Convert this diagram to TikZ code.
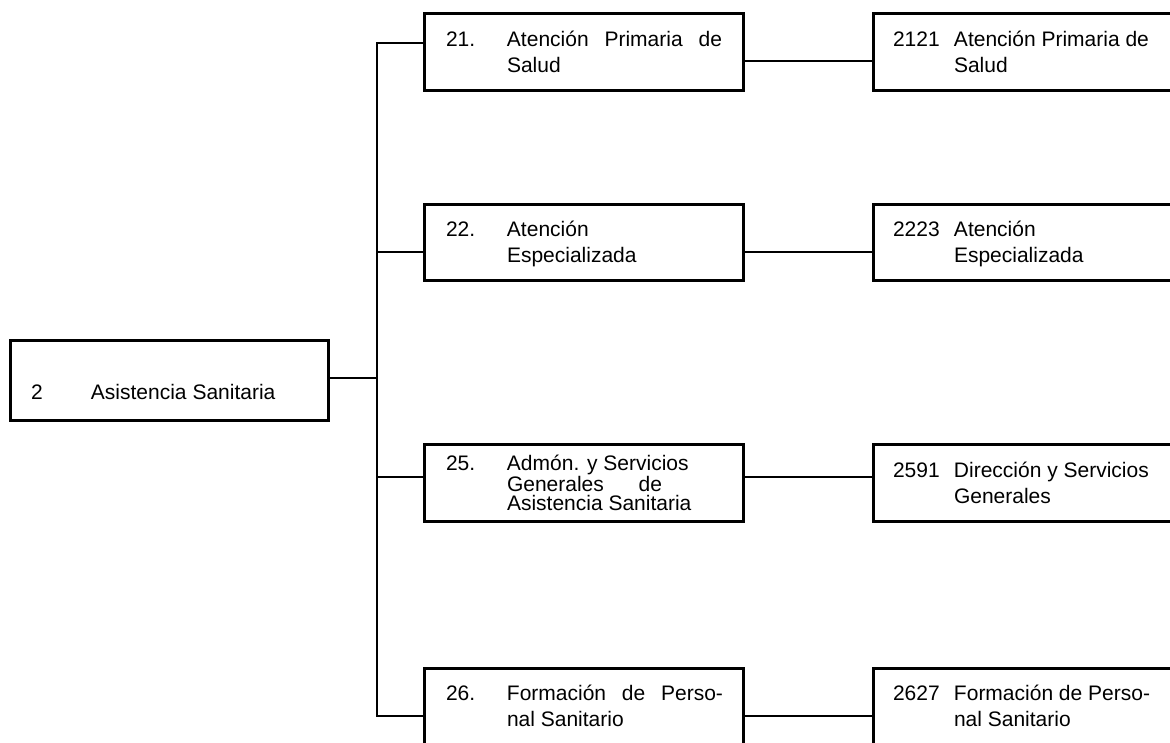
\documentclass[tikz,border=0pt]{standalone}
\usepackage{fontspec}
\setmainfont{Liberation Sans}
\begin{document}
\begin{tikzpicture}[x=1pt,y=-1pt,
  box/.style={draw=black, line width=3pt, rectangle, anchor=north west, inner sep=0pt, outer sep=0pt},
  conn/.style={draw=black, line width=2.8pt},
  txt/.style={anchor=base west, inner sep=0pt, outer sep=0pt, align=left, font=\fontsize{21pt}{26pt}\selectfont},
  txttight/.style={txt, font=\fontsize{21pt}{19pt}\selectfont}]
\useasboundingbox (0,0) rectangle (1170,742);
\clip (0,0) rectangle (1170,742);
% main box
\node[box, minimum width=318pt, minimum height=80pt] (main) at (10,340) {};
\node[txt] (tmain) at (31,399) {\makebox[60pt][l]{2}Asistencia Sanitaria};
% left column boxes
\node[box, minimum width=319pt, minimum height=77pt] (b21) at (424,13) {};
\node[box, minimum width=319pt, minimum height=76pt] (b22) at (424,204) {};
\node[box, minimum width=319pt, minimum height=77pt] (b25) at (424,444) {};
\node[box, minimum width=319pt, minimum height=102pt] (b26) at (424,668) {};
% right column boxes
\node[box, minimum width=340pt, minimum height=77pt] (c2121) at (873,13) {};
\node[box, minimum width=340pt, minimum height=76pt] (c2223) at (873,204) {};
\node[box, minimum width=340pt, minimum height=77pt] (c2591) at (873,444) {};
\node[box, minimum width=340pt, minimum height=102pt] (c2627) at (873,668) {};
% texts left (base anchor = last line baseline)
\node[txt] (t21) at (446,72) {\makebox[61pt][l]{21.}\makebox[215pt][s]{Atención Primaria de}\\\hspace*{61pt}Salud};
\node[txt] (t22) at (446,262) {\makebox[61pt][l]{22.}Atención\\\hspace*{61pt}Especializada};
\node[txttight] (t25) at (446,510) {\makebox[61pt][l]{25.}Admón. y Servicios\\\hspace*{61pt}\makebox[155pt][s]{Generales de}\\\hspace*{61pt}Asistencia Sanitaria};
\node[txt] (t26) at (446,726) {\makebox[61pt][l]{26.}\makebox[216pt][s]{Formación de Perso-}\\\hspace*{61pt}nal Sanitario};
% texts right
\node[txt] (u2121) at (893,72) {\makebox[61pt][l]{2121}Atención Primaria de\\\hspace*{61pt}Salud};
\node[txt] (u2223) at (893,262) {\makebox[61pt][l]{2223}Atención\\\hspace*{61pt}Especializada};
\node[txt] (u2591) at (893,503) {\makebox[61pt][l]{2591}Dirección y Servicios\\\hspace*{61pt}Generales};
\node[txt] (u2627) at (893,726) {\makebox[61pt][l]{2627}Formación de Perso-\\\hspace*{61pt}nal Sanitario};
% trunk
\coordinate (tr1) at (377,43);
\coordinate (tr2) at (377,252);
\coordinate (tr3) at (377,477);
\coordinate (tr4) at (377,716);
\coordinate (trm) at (377,378);
\draw[conn] (b21.west |- tr1) -- (tr1) -- (tr4) -- (b26.west |- tr4);
\draw[conn] (tr2) -- (b22.west |- tr2);
\draw[conn] (tr3) -- (b25.west |- tr3);
\draw[conn] (main.east |- trm) -- (trm);
% right connectors
\draw[conn] ([yshift=-9.5pt]b21.east) -- ([yshift=-9.5pt]c2121.east -| c2121.west);
\draw[conn] ([yshift=-10pt]b22.east) -- ([yshift=-10pt]c2223.east -| c2223.west);
\draw[conn] ([yshift=5.5pt]b25.east) -- ([yshift=5.5pt]c2591.east -| c2591.west);
\draw[conn] ([yshift=3pt]b26.east) -- ([yshift=3pt]c2627.east -| c2627.west);
\end{tikzpicture}
\end{document}
